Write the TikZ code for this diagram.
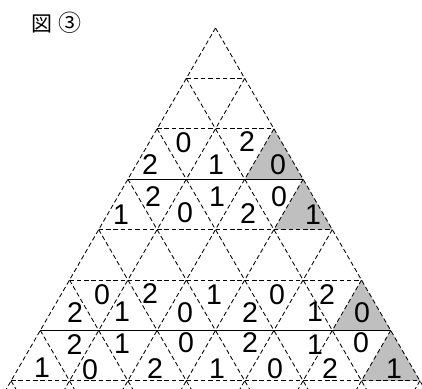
\documentclass[tikz,border=0pt]{standalone}
\usepackage{fontspec}
\newfontfamily\jpfont{Noto Sans CJK JP}
\newfontfamily\digitfont{Liberation Sans}
\begin{document}
\begin{tikzpicture}[x=1pt,y=-1pt,
  gridline/.style={line width=0.85pt,dash pattern=on 4.5pt off 2.8pt},
  solidline/.style={line width=1.3pt},
  shade/.style={fill=black!25,draw=none},
  num/.style={font=\digitfont\fontsize{28.5}{28.5}\selectfont,inner sep=0pt}]
\useasboundingbox (0,0) rectangle (422,388);
\clip (0,0) rectangle (422,388);
\def\s{58.4}
\def\h{50.4}
\foreach \r in {0,...,8}{
  \foreach \j in {0,...,\r}{
    \coordinate (p\r-\j) at ({215.5+(\j-\r/2)*\s},{28+\r*\h});
  }
}
% shaded triangles
\fill[shade] (p2-2) -- (p3-2) -- (p3-3) -- cycle;
\fill[shade] (p3-3) -- (p4-3) -- (p4-4) -- cycle;
\fill[shade] (p5-5) -- (p6-5) -- (p6-6) -- cycle;
\fill[shade] (p6-6) -- (p7-6) -- (p7-7) -- cycle;
% grid lines
\foreach \r in {1,2,4,5,7,8} \draw[gridline] (p\r-0) -- (p\r-\r);
\foreach \r in {3,6} \draw[solidline] (p\r-0) -- (p\r-\r);
\foreach \j in {0,...,7} \draw[gridline] (p\j-\j) -- (p8-\j);
\foreach \m in {0,...,7}{
  \pgfmathtruncatemacro{\e}{8-\m}
  \draw[gridline] (p\m-0) -- (p8-\e);
}
% numbers
\foreach \x/\y/\t [count=\i] in {
  150/165/2, 183.5/143/0, 216/165/1, 247/142/2, 278/165/0,
  121/215/1, 153/197/2, 185/213/0, 217/197/1, 248/214/2, 279/197/0, 313/215/1,
  75/313/2, 102/295/0, 122/312/1, 150/294/2, 185/313/0, 214/295/1, 250/313/2, 277/295/0, 315/312/1, 327/295/2, 362/313/0,
  42/368/1, 74.5/345/2, 90/370/0, 122/344/1, 155/369/2, 186/343/0, 217/369/1, 250/343/2, 275/369/0, 315/345/1, 330/369/2, 361/343/0, 394/369/1}
  \node[num] (n\i) at (\x,\y) {\t};
\node[font=\jpfont\fontsize{21}{21}\selectfont,anchor=west,inner sep=0pt] (title) at (31,23) {図\hspace{6pt}\fontsize{23}{23}\selectfont ③};
\end{tikzpicture}
\end{document}
